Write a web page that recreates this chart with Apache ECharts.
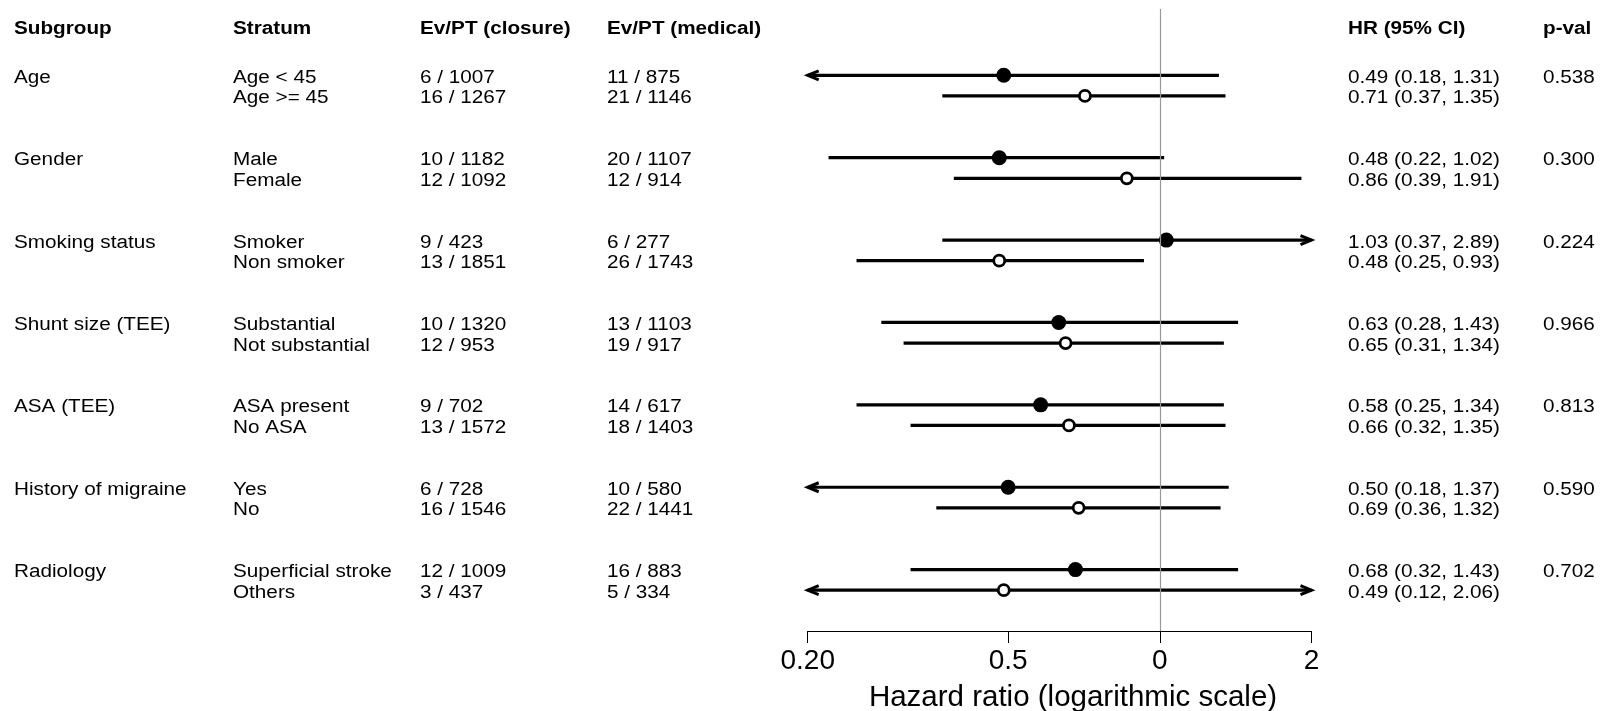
<!DOCTYPE html>
<html>
<head>
<meta charset="utf-8">
<title>Forest plot</title>
<script src="https://cdn.jsdelivr.net/npm/echarts@6/dist/echarts.min.js"></script>
<style>
  html, body { margin: 0; padding: 0; background: #fff; }
  #chart { width: 1606px; height: 711px; }
</style>
</head>
<body>
<div id="chart"></div>
<script>
var headers = ['Subgroup', 'Stratum', 'Ev/PT (closure)', 'Ev/PT (medical)', 'HR (95% CI)', 'p-val'];
var subgroups = ['Age', 'Gender', 'Smoking status', 'Shunt size (TEE)', 'ASA (TEE)', 'History of migraine', 'Radiology'];
var strata = ['Age < 45', 'Age >= 45', 'Male', 'Female', 'Smoker', 'Non smoker', 'Substantial', 'Not substantial',
    'ASA present', 'No ASA', 'Yes', 'No', 'Superficial stroke', 'Others'];
var evClosure = ['6 / 1007', '16 / 1267', '10 / 1182', '12 / 1092', '9 / 423', '13 / 1851', '10 / 1320', '12 / 953',
    '9 / 702', '13 / 1572', '6 / 728', '16 / 1546', '12 / 1009', '3 / 437'];
var evMedical = ['11 / 875', '21 / 1146', '20 / 1107', '12 / 914', '6 / 277', '26 / 1743', '13 / 1103', '19 / 917',
    '14 / 617', '18 / 1403', '10 / 580', '22 / 1441', '16 / 883', '5 / 334'];
var hr = [0.49, 0.71, 0.48, 0.86, 1.03, 0.48, 0.63, 0.65, 0.58, 0.66, 0.50, 0.69, 0.68, 0.49];
var lower = [0.18, 0.37, 0.22, 0.39, 0.37, 0.25, 0.28, 0.31, 0.25, 0.32, 0.18, 0.36, 0.32, 0.12];
var upper = [1.31, 1.35, 1.02, 1.91, 2.89, 0.93, 1.43, 1.34, 1.34, 1.35, 1.37, 1.32, 1.43, 2.06];
var pvals = ['0.538', '0.300', '0.224', '0.966', '0.813', '0.590', '0.702'];
var tickValues = [0.2, 0.5, 1, 2];
var tickLabels = ['0.20', '0.5', '0', '2'];
var axisTitle = 'Hazard ratio (logarithmic scale)';

var FONT = '"Liberation Sans", Arial, Helvetica, sans-serif';
var colX = [14, 233, 420, 607, 1348, 1543];
var AXIS_MIN = 0.2, AXIS_MAX = 2;
var HEADER_ROW = -2.35;

// two strata per subgroup, then a gap of two rows
function rowOf(i) {
    return Math.floor(i / 2) * 4 + (i % 2);
}

function hrText(i) {
    return hr[i].toFixed(2) + ' (' + lower[i].toFixed(2) + ', ' + upper[i].toFixed(2) + ')';
}

function txt(x, y, s, bold) {
    return {
        type: 'text', x: x, y: y, scaleX: 1.15, silent: true,
        style: {
            text: s, fill: '#000', fontFamily: FONT, fontSize: 18,
            fontWeight: bold ? 'bold' : 'normal', align: 'left', verticalAlign: 'middle'
        }
    };
}

function arrowHead(p, dir) {
    return {
        type: 'polyline', silent: true,
        shape: { points: [[p[0] - dir * 11, p[1] - 4.5], p, [p[0] - dir * 11, p[1] + 4.5]] },
        style: { stroke: '#000', lineWidth: 3, fill: null, lineJoin: 'miter' }
    };
}

var ciData = [], filledPts = [], hollowPts = [], rowData = [];
for (var i = 0; i < strata.length; i++) {
    ciData.push([lower[i], upper[i], rowOf(i)]);
    if (i % 2 === 0) filledPts.push([hr[i], rowOf(i)]);
    else hollowPts.push([hr[i], rowOf(i)]);
    rowData.push([1, rowOf(i), i]);
}

var chart = echarts.init(document.getElementById('chart'));

chart.setOption({
    animation: false,
    backgroundColor: '#fff',
    grid: { left: 807.7, right: 1606 - 1311.5, top: 9, bottom: 711 - 631 },
    xAxis: {
        type: 'log', min: AXIS_MIN, max: AXIS_MAX,
        axisLine: { show: true, onZero: false, lineStyle: { color: '#000', width: 1 } },
        axisTick: { show: true, inside: false, length: 12, customValues: tickValues, lineStyle: { color: '#000', width: 1 } },
        axisLabel: {
            show: true, margin: 16, customValues: tickValues, color: '#000',
            fontFamily: FONT, fontSize: 28,
            formatter: function (v) {
                for (var k = 0; k < tickValues.length; k++) {
                    if (Math.abs(tickValues[k] - v) < 1e-6) return tickLabels[k];
                }
                return '';
            }
        },
        splitLine: { show: false },
        minorTick: { show: false }
    },
    yAxis: {
        type: 'value', inverse: true, min: -3.22, max: 26.98,
        show: false, splitLine: { show: false }
    },
    graphic: [{
        type: 'text', x: 1073, y: 698, silent: true,
        style: { text: axisTitle, fill: '#000', fontFamily: FONT, fontSize: 29.5, align: 'center', verticalAlign: 'middle' }
    }],
    series: [
        {
            type: 'custom', name: 'ci', clip: false, z: 2,
            data: ciData,
            renderItem: function (params, api) {
                var lo = api.value(0), hi = api.value(1), r = api.value(2);
                var p1 = api.coord([Math.max(lo, AXIS_MIN), r]);
                var p2 = api.coord([Math.min(hi, AXIS_MAX), r]);
                var kids = [{
                    type: 'line', silent: true,
                    shape: { x1: p1[0], y1: p1[1], x2: p2[0], y2: p2[1] },
                    style: { stroke: '#000', lineWidth: 3.2, lineCap: 'butt' }
                }];
                if (lo < AXIS_MIN) kids.push(arrowHead(p1, -1));
                if (hi > AXIS_MAX) kids.push(arrowHead(p2, 1));
                return { type: 'group', children: kids };
            }
        },
        {
            type: 'scatter', name: 'filled', z: 3,
            data: filledPts, symbol: 'circle', symbolSize: 15,
            itemStyle: { color: '#000', opacity: 1 },
            markLine: {
                silent: true, symbol: ['none', 'none'], label: { show: false },
                lineStyle: { color: '#999', width: 1.2, type: 'solid' },
                data: [{ xAxis: 1 }]
            }
        },
        {
            type: 'scatter', name: 'hollow', z: 3,
            data: hollowPts, symbol: 'circle', symbolSize: 11,
            itemStyle: { color: '#fff', borderColor: '#000', borderWidth: 2.8, opacity: 1 }
        },
        {
            type: 'custom', name: 'table', clip: false, silent: true,
            data: rowData,
            renderItem: function (params, api) {
                var i = api.value(2);
                var y = api.coord([1, api.value(1)])[1] + 2.5;
                var kids = [
                    txt(colX[1], y, strata[i]),
                    txt(colX[2], y, evClosure[i]),
                    txt(colX[3], y, evMedical[i]),
                    txt(colX[4], y, hrText(i))
                ];
                if (i % 2 === 0) {
                    kids.push(txt(colX[0], y, subgroups[i / 2]));
                    kids.push(txt(colX[5], y, pvals[i / 2]));
                }
                return { type: 'group', children: kids };
            }
        },
        {
            type: 'custom', name: 'header', clip: false, silent: true,
            data: [[1, HEADER_ROW]],
            renderItem: function (params, api) {
                var y = api.coord([1, api.value(1)])[1] + 2.5;
                var kids = [];
                for (var k = 0; k < headers.length; k++) kids.push(txt(colX[k], y, headers[k], true));
                return { type: 'group', children: kids };
            }
        }
    ]
});
</script>
</body>
</html>
